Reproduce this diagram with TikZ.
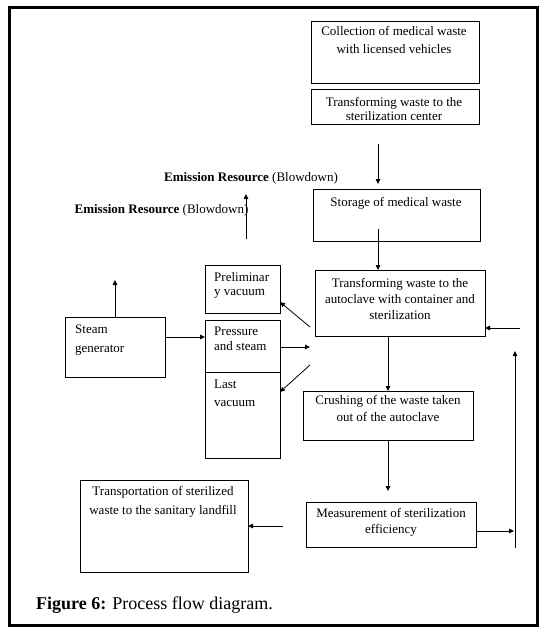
\documentclass[tikz,border=0pt]{standalone}
\usepackage{fontspec}
\setmainfont{Liberation Serif}
\usetikzlibrary{arrows.meta,positioning}

\begin{document}
\begin{tikzpicture}[
    x=1pt, y=-1pt,
    box/.style={rectangle, draw=black, line width=0.8pt, inner sep=0pt,
                outer sep=0pt, anchor=north west},
    boxtext/.style={font=\fontsize{13}{#1}\selectfont, inner sep=0pt,
                    anchor=base, align=center},
    sidetext/.style={font=\fontsize{13}{#1}\selectfont, inner sep=0pt,
                     anchor=base west, align=left},
    arrow/.style={line width=0.8pt, -{Triangle[length=5pt,width=4.5pt]}}
]
\useasboundingbox (0,0) rectangle (546,632);

% Outer frame
\draw[line width=3pt] (9.5,7.5) rectangle (537.5,625);

% Main line (right column)
\node[box, minimum width=168pt, minimum height=62pt] (collect) at (311,21) {};
\node[box, minimum width=168pt, minimum height=35pt] (tocenter) at (311,89) {};
\node[box, minimum width=167pt, minimum height=52pt] (storage) at (313,189) {};
\node[box, minimum width=170pt, minimum height=66pt] (autoclave) at (315,270) {};
\node[box, minimum width=170pt, minimum height=49pt] (crushing) at (303,391) {};
\node[box, minimum width=170pt, minimum height=45pt] (measure) at (306,502) {};
\node[box, minimum width=168pt, minimum height=92pt] (transport) at (80,480) {};

% texts sit on the baseline of their last line
\node[boxtext=18pt] (collect-t) at (394,53.5) {Collection of medical waste\\with licensed vehicles};
\node[boxtext=14pt] (tocenter-t) at (394,120.5) {Transforming waste to the\\sterilization center};
\node[boxtext=14pt] (storage-t) at (396,206.5) {Storage of medical waste};
\node[boxtext=16pt] (autoclave-t) at (400,319.5) {Transforming waste to the\\autoclave with container and\\sterilization};
\node[boxtext=17pt] (crushing-t) at (388,421.5) {Crushing of the waste taken\\out of the autoclave};
\node[boxtext=16pt] (measure-t) at (391,533.5) {Measurement of sterilization\\efficiency};
\node[boxtext=19pt] (transport-t) at (163,514.5) {Transportation of sterilized\\waste to the sanitary landfill};

% Autoclave cycle and steam
\node[box, minimum width=75pt, minimum height=48pt] (prelim) at (205,265) {};
\node[box, minimum width=75pt, minimum height=52pt] (pressure) at (205,320) {};
\node[box, minimum width=75pt, minimum height=86pt, below=0pt of pressure] (lastvac) {};
\node[box, minimum width=100pt, minimum height=60pt] (steamgen) at (65,317) {};

\node[sidetext=14pt] (prelim-t) at (214,295.5) {Preliminar\\y vacuum};
\node[sidetext=15pt] (pressure-t) at (214,350.5) {Pressure\\and steam};
\node[sidetext=18pt] (lastvac-t) at (214,406.5) {Last\\vacuum};
\node[sidetext=19pt] (steamgen-t) at (75,352.5) {Steam\\generator};

% Emission labels
\node[boxtext=14pt] (emis1) at (251,181.5) {\textbf{Emission Resource} (Blowdown)};
\node[boxtext=14pt] (emis2) at (161.5,213) {\textbf{Emission Resource} (Blowdown)};

% Free ends
\coordinate (down1a) at (378,144);
\coordinate (down1b) at (378,184);
\coordinate (store-out) at (378,229);
\coordinate (emis-up) at (246,239);
\coordinate (emis-tip) at (246,194);
\coordinate (steam-tip) at (115,280);
\coordinate (sg-out) at (165,337);
\coordinate (hub-up) at (310,327);
\coordinate (hub-mid) at (310,347);
\coordinate (hub-low) at (310,365);
\coordinate (crush-tip) at (0,491);
\coordinate (ret-in) at (514,531);
\coordinate (ret-low) at (515,548);
\coordinate (ret-tip) at (515,351);
\coordinate (ret-back) at (520,328);
\coordinate (land-out) at (283,526);

% Arrows: main line
\draw[arrow] (down1a) -- (down1b);
\draw[arrow] (store-out) -- (store-out |- autoclave.north);
\draw[arrow] (crushing.north |- autoclave.south) -- (crushing.north);
\draw[arrow] (crushing.south) -- (crushing.south |- crush-tip);
\draw[arrow] (measure.east |- ret-in) -- (ret-in);
\draw[line width=0.8pt] (ret-low) -- (ret-tip |- ret-in);
\draw[arrow] (ret-in -| ret-low) -- (ret-tip);
\draw[arrow] (ret-back) -- (autoclave.east |- ret-back);
\draw[arrow] (land-out) -- (transport.east);

% Arrows: steam and vacuum
\draw[arrow] (emis-up) -- (emis-tip);
\draw[arrow] (steamgen.north) -- (steam-tip);
\draw[arrow] (sg-out) -- (sg-out -| pressure.west);
\draw[arrow] (pressure.east |- hub-mid) -- (hub-mid);
\draw[arrow] (hub-up) -- ([yshift=-13pt]prelim.east);
\draw[arrow] (hub-low) -- ([yshift=23pt]lastvac.east);

% Caption
\node[anchor=base west, inner sep=0pt, font=\fontsize{18}{20}\selectfont] (caption)
    at (36,609) {\textbf{Figure 6:} Process flow diagram.};

\end{tikzpicture}
\end{document}
